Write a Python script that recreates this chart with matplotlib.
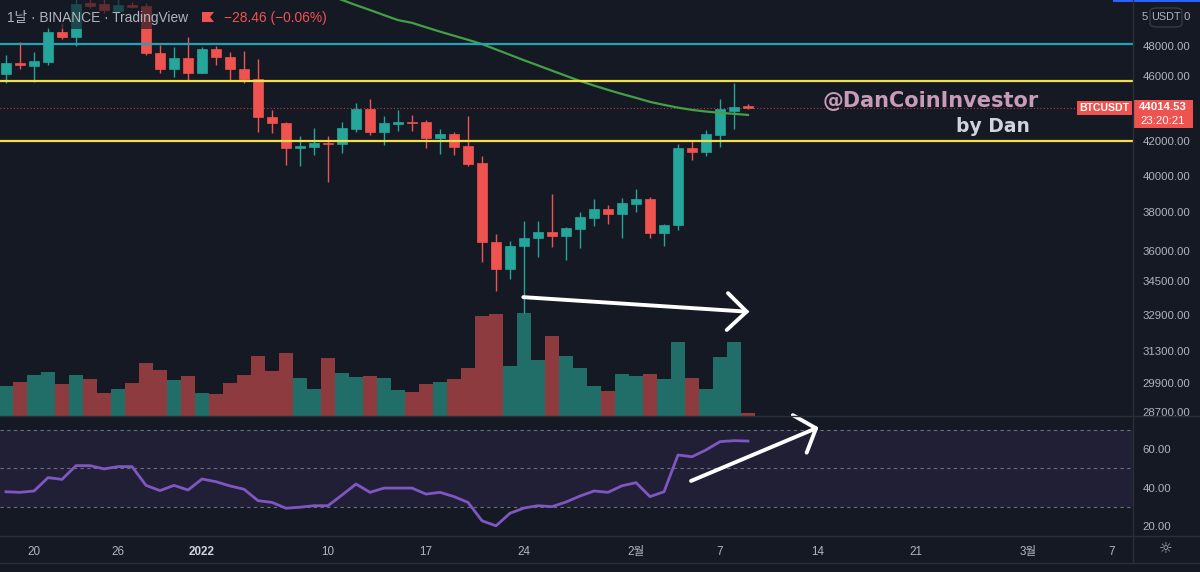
import pandas as pd
import matplotlib
matplotlib.use("Agg")
import matplotlib.pyplot as plt
import matplotlib.dates as mdates
from matplotlib.patches import Rectangle, Polygon, FancyBboxPatch
from matplotlib.ticker import NullLocator

plt.rcParams['font.family'] = ['Liberation Sans', 'Noto Sans CJK KR', 'DejaVu Sans']

# daily BTCUSDT candles
dates = pd.date_range("2021-12-18", "2022-02-09", freq="D")
opens = [46160, 46900, 46700, 46950, 48960, 48600, 50980, 50930, 50430, 50880,
         50790, 47560, 46470, 47190, 46250, 47790, 47300, 46470, 45820, 43480,
         43110, 41590, 41680, 41920, 41840, 42730, 43970, 42570, 43030, 43170,
         43130, 42210, 42410, 41720, 40720, 36470, 35090, 36260, 36650, 36990,
         36780, 37130, 37720, 38190, 37910, 38460, 38730, 36910, 37340, 41620,
         41350, 42370, 43840, 44130]
highs = [47410, 48300, 47630, 49330, 49570, 51400, 51300, 51300, 51300, 51100,
         51000, 48080, 47970, 48600, 47970, 48010, 47630, 47680, 47140, 43890,
         43140, 42310, 42810, 42310, 43130, 44340, 44570, 43520, 43890, 43580,
         43270, 42730, 42570, 43540, 41160, 36860, 36530, 37570, 37570, 38990,
         37250, 38010, 38750, 38400, 38770, 39280, 38850, 37390, 41820, 42030,
         42670, 44570, 45560, 44260]
lows = [45600, 46490, 45660, 46750, 48490, 48030, 50620, 50310, 50270, 50620,
        47410, 46210, 45990, 45770, 46210, 46750, 45770, 45560, 42570, 42470,
        40620, 40570, 41200, 39680, 41300, 42530, 42370, 41780, 42600, 42630,
        41590, 41260, 41200, 40580, 35460, 34040, 34610, 33000, 35710, 36220,
        35550, 36170, 37290, 37390, 36680, 38010, 36650, 36270, 37080, 40910,
        41160, 41680, 42710, 43970]
closes = [46900, 46750, 47010, 48950, 48600, 50930, 50790, 50500, 50860, 50740,
          47560, 46470, 47190, 46250, 47790, 47300, 46470, 45820, 43480, 43110,
          41590, 41740, 41920, 41840, 42770, 43970, 42570, 43070, 43130, 43090,
          42210, 42410, 41680, 40680, 36440, 35090, 36270, 36650, 36960, 36780,
          37170, 37750, 38190, 37910, 38500, 38730, 36910, 37340, 41620, 41390,
          42410, 43930, 44090, 44014.53]
volumes = [26.1, 29.9, 36.4, 38.7, 27.9, 35.8, 32.9, 20.2, 23.5, 29.4,
           46.6, 40.2, 31.4, 34.9, 20.6, 19.4, 28.8, 35.8, 52.5, 39.3,
           55.4, 33.2, 23.5, 51.0, 37.8, 34.3, 35.2, 33.2, 22.6, 21.1,
           27.9, 29.9, 32.9, 42.2, 88.4, 89.5, 44.4, 91.0, 49.6, 70.1,
           52.8, 42.2, 26.4, 22.0, 37.0, 34.9, 36.7, 32.6, 64.9, 33.2,
           23.5, 51.7, 64.9, 2.4]  # thousand BTC
rsi = [37.9, 37.6, 38.3, 45.2, 44.3, 51.4, 51.4, 49.7, 50.9, 50.9,
       41.2, 38.5, 41.2, 38.8, 44.5, 43.1, 40.9, 39.2, 33.3, 32.4,
       29.4, 29.9, 30.7, 30.7, 36.2, 41.9, 37.6, 39.8, 39.8, 39.8,
       36.7, 37.6, 35.4, 32.4, 22.9, 20.3, 26.8, 29.5, 30.7, 30.2,
       32.6, 35.7, 38.3, 37.6, 41.0, 42.6, 35.4, 37.9, 56.9, 56.0,
       59.5, 63.8, 64.3, 64.1]

# moving average (green), only the visible part
ma_dates = pd.date_range("2022-01-10", "2022-02-09", freq="D")
ma_values = [51600, 51220, 50850, 50500, 50140, 49790, 49600, 49290, 48990, 48710,
             48430, 48140, 47780, 47420, 47060, 46720, 46380, 46040, 45710, 45420,
             45140, 44880, 44640, 44390, 44200, 44030, 43890, 43790, 43710, 43650,
             43580]

# drawn levels
level_teal = 48170
levels_yellow = [45730, 42030]
last_price = 44014.53

# 50000.00 is mostly hidden behind the USDT button, drawn separately below
price_ticks = [48000, 46000, 42000, 40000, 38000, 36000, 34500, 32900, 31300, 29900, 28700]
top_tick = 50000
rsi_ticks = [20, 40, 60]
xtick_dates = ["2021-12-20", "2021-12-26", "2022-01-01", "2022-01-10", "2022-01-17", "2022-01-24",
               "2022-02-01", "2022-02-07", "2022-02-14", "2022-02-21", "2022-03-01", "2022-03-07"]
xtick_labels = ["20", "26", "2022", "10", "17", "24", "2월", "7", "14", "21", "3월", "7"]

BG = "#151924"
GRID = "#2a2e39"
TXT = "#b2b5be"
UP = "#26a69a"
DOWN = "#ef5350"
W, H = 1200, 572


def fx(px):
    return px / W


def fy(py):
    return 1 - py / H


fig = plt.figure(figsize=(12, 5.72), dpi=100, facecolor=BG)
main_rect = [0, fy(416), fx(1133), 416 / H]
ax_vol = fig.add_axes(main_rect, facecolor=BG)
ax = fig.add_axes(main_rect, sharex=ax_vol)
ax.patch.set_alpha(0)
ax_rsi = fig.add_axes([0, fy(536), fx(1133), 120 / H], facecolor=BG, sharex=ax_vol)

x = mdates.date2num(dates)
base = mdates.date2num(pd.Timestamp("2022-01-01"))
up = [c >= o for o, c in zip(opens, closes)]
colors = [UP if u else DOWN for u in up]

# volume
vol_colors = ["#216e69" if u else "#8d3b3f" for u in up]
ax_vol.bar(x, volumes, width=0.94, color=vol_colors)
ax_vol.set_ylim(0, 366)
ax_vol.axis("off")

# candles
ax.set_yscale("log")
ax.vlines(x, lows, highs, colors=colors, lw=1, zorder=3)
bottoms = [min(o, c) for o, c in zip(opens, closes)]
heights = [max(abs(c - o), 15) for o, c in zip(opens, closes)]
ax.bar(x, heights, bottom=bottoms, width=0.78, color=colors, edgecolor=colors, lw=0.5, zorder=4)

ax.plot(mdates.date2num(ma_dates), ma_values, color="#43a047", lw=1.6, zorder=5)
ax.axhline(level_teal, color="#22a2b4", lw=1.6, zorder=6)
for lv in levels_yellow:
    ax.axhline(lv, color="#f2e04a", lw=1.6, zorder=6)
ax.axhline(last_price, color=DOWN, lw=0.8, ls=(0, (1, 2)), alpha=0.7, zorder=2)

ax.set_ylim(28552, 51217)
ax.set_xlim(base - 14.43, base + 66.5)
ax.yaxis.set_minor_locator(NullLocator())
ax.set_yticks(price_ticks)
ax.set_yticklabels([f"{t:.2f}" for t in price_ticks])
ax.yaxis.tick_right()
ax.tick_params(axis="y", length=0, pad=7, labelcolor=TXT, labelsize=8.2)
ax.tick_params(axis="x", bottom=False, labelbottom=False)
for s in ax.spines.values():
    s.set_visible(False)

# white arrow on price pane
ax.plot([base + 22.95, base + 38.9], [33740, 33060], color="white", lw=2.8,
        solid_capstyle="round", zorder=7)
ax.plot([base + 37.57, base + 38.9, base + 37.48], [33930, 33060, 32220], color="white",
        lw=2.8, solid_capstyle="round", solid_joinstyle="miter", zorder=7)

# RSI pane
ax_rsi.axhspan(30, 70, color="#211f35", lw=0)
for lv in [30, 50, 70]:
    ax_rsi.axhline(lv, color="#6c6f7a", lw=0.8, ls=(0, (3, 3)))
ax_rsi.plot(x, rsi, color="#7e57c2", lw=2)
ax_rsi.plot([base + 34.93, base + 43.86], [43.5, 70.7], color="white", lw=2.8,
            solid_capstyle="round", clip_on=False, zorder=7)
ax_rsi.plot([base + 42.2, base + 43.86, base + 43.19], [77.5, 70.7, 58.1], color="white",
            lw=2.8, solid_capstyle="round", clip_on=False, zorder=7)
ax_rsi.set_ylim(15.04, 77.05)
ax_rsi.set_yticks(rsi_ticks)
ax_rsi.set_yticklabels([f"{t:.2f}" for t in rsi_ticks])
ax_rsi.yaxis.tick_right()
ax_rsi.tick_params(axis="y", length=0, pad=7, labelcolor=TXT, labelsize=8.2)
ax_rsi.set_xticks(mdates.date2num(pd.to_datetime(xtick_dates)))
ax_rsi.set_xticklabels(xtick_labels)
ax_rsi.tick_params(axis="x", length=0, pad=7, labelcolor=TXT, labelsize=8.4)
for lab in ax_rsi.get_xticklabels():
    if lab.get_text() == "2022":
        lab.set_fontweight("bold")
        lab.set_color("#d1d4dc")
for s in ax_rsi.spines.values():
    s.set_visible(False)

# pane separators
for py in [416, 536, 563]:
    fig.add_artist(plt.Line2D([0, 1], [fy(py), fy(py)], color=GRID, lw=1))
fig.add_artist(plt.Line2D([fx(1133), fx(1133)], [fy(0), fy(563)], color=GRID, lw=1))
fig.add_artist(Rectangle((fx(1113), fy(2)), fx(87), 2 / H, color="#2962ff", lw=0))

# legend at the top left
fig.add_artist(Rectangle((0, fy(29)), fx(315), 29 / H, color=BG, alpha=0.65, lw=0))
fig.text(fx(7), fy(22), "1날 · BINANCE · TradingView", color=TXT, fontsize=9.9, va="baseline")
fig.add_artist(Polygon([(fx(202), fy(12)), (fx(214), fy(12)), (fx(210), fy(17)),
                        (fx(214), fy(22)), (fx(202), fy(22))], closed=True, color=DOWN, lw=0))
fig.text(fx(224), fy(22), "\u221228.46 (\u22120.06%)", color=DOWN, fontsize=9.9, va="baseline")

# watermark
fig.text(fx(1039), fy(106.5), "@DanCoinInvestor", color="#c89bb8", fontsize=15,
         fontweight="bold", family="DejaVu Sans", ha="right", va="baseline")
fig.text(fx(1030), fy(132.5), "by Dan", color="#d1d4dc", fontsize=13.5,
         fontweight="bold", family="DejaVu Sans", ha="right", va="baseline")

# symbol and last price labels
fig.add_artist(Rectangle((fx(1077), fy(115)), fx(55), 14.5 / H, color=DOWN, lw=0))
fig.text(fx(1104.5), fy(108), "BTCUSDT", color="white", fontsize=7.6,
         fontweight="bold", ha="center", va="center")
fig.add_artist(Rectangle((fx(1133), fy(128)), fx(60), 28 / H, color=DOWN, lw=0))
fig.text(fx(1163), fy(107.5), f"{last_price:.2f}", color="white", fontsize=8.2,
         fontweight="bold", ha="center", va="center")
fig.text(fx(1163), fy(120.5), "23:20:21", color="white", fontsize=8.2,
         ha="center", va="center")

# currency button covering the top price label: only its first and last digit show
top_label = f"{top_tick:.2f}"
fig.text(fx(1142), fy(17.5), top_label[0], color=TXT, fontsize=8.2, ha="left", va="center")
fig.text(fx(1190), fy(17.5), top_label[-1], color=TXT, fontsize=8.2, ha="right", va="center")
fig.add_artist(FancyBboxPatch((fx(1150), fy(27)), fx(32), 19 / H,
                              boxstyle="round,pad=0,rounding_size=0.006",
                              facecolor=BG, edgecolor="#363a45", lw=1))
fig.text(fx(1166), fy(17.5), "USDT", color=TXT, fontsize=7.8, ha="center", va="center")

# settings icon
fig.text(fx(1166), fy(549), "\u263c", color=TXT, fontsize=11, family="DejaVu Sans",
         ha="center", va="center")

fig.savefig("out.png", dpi=100, facecolor=BG)
